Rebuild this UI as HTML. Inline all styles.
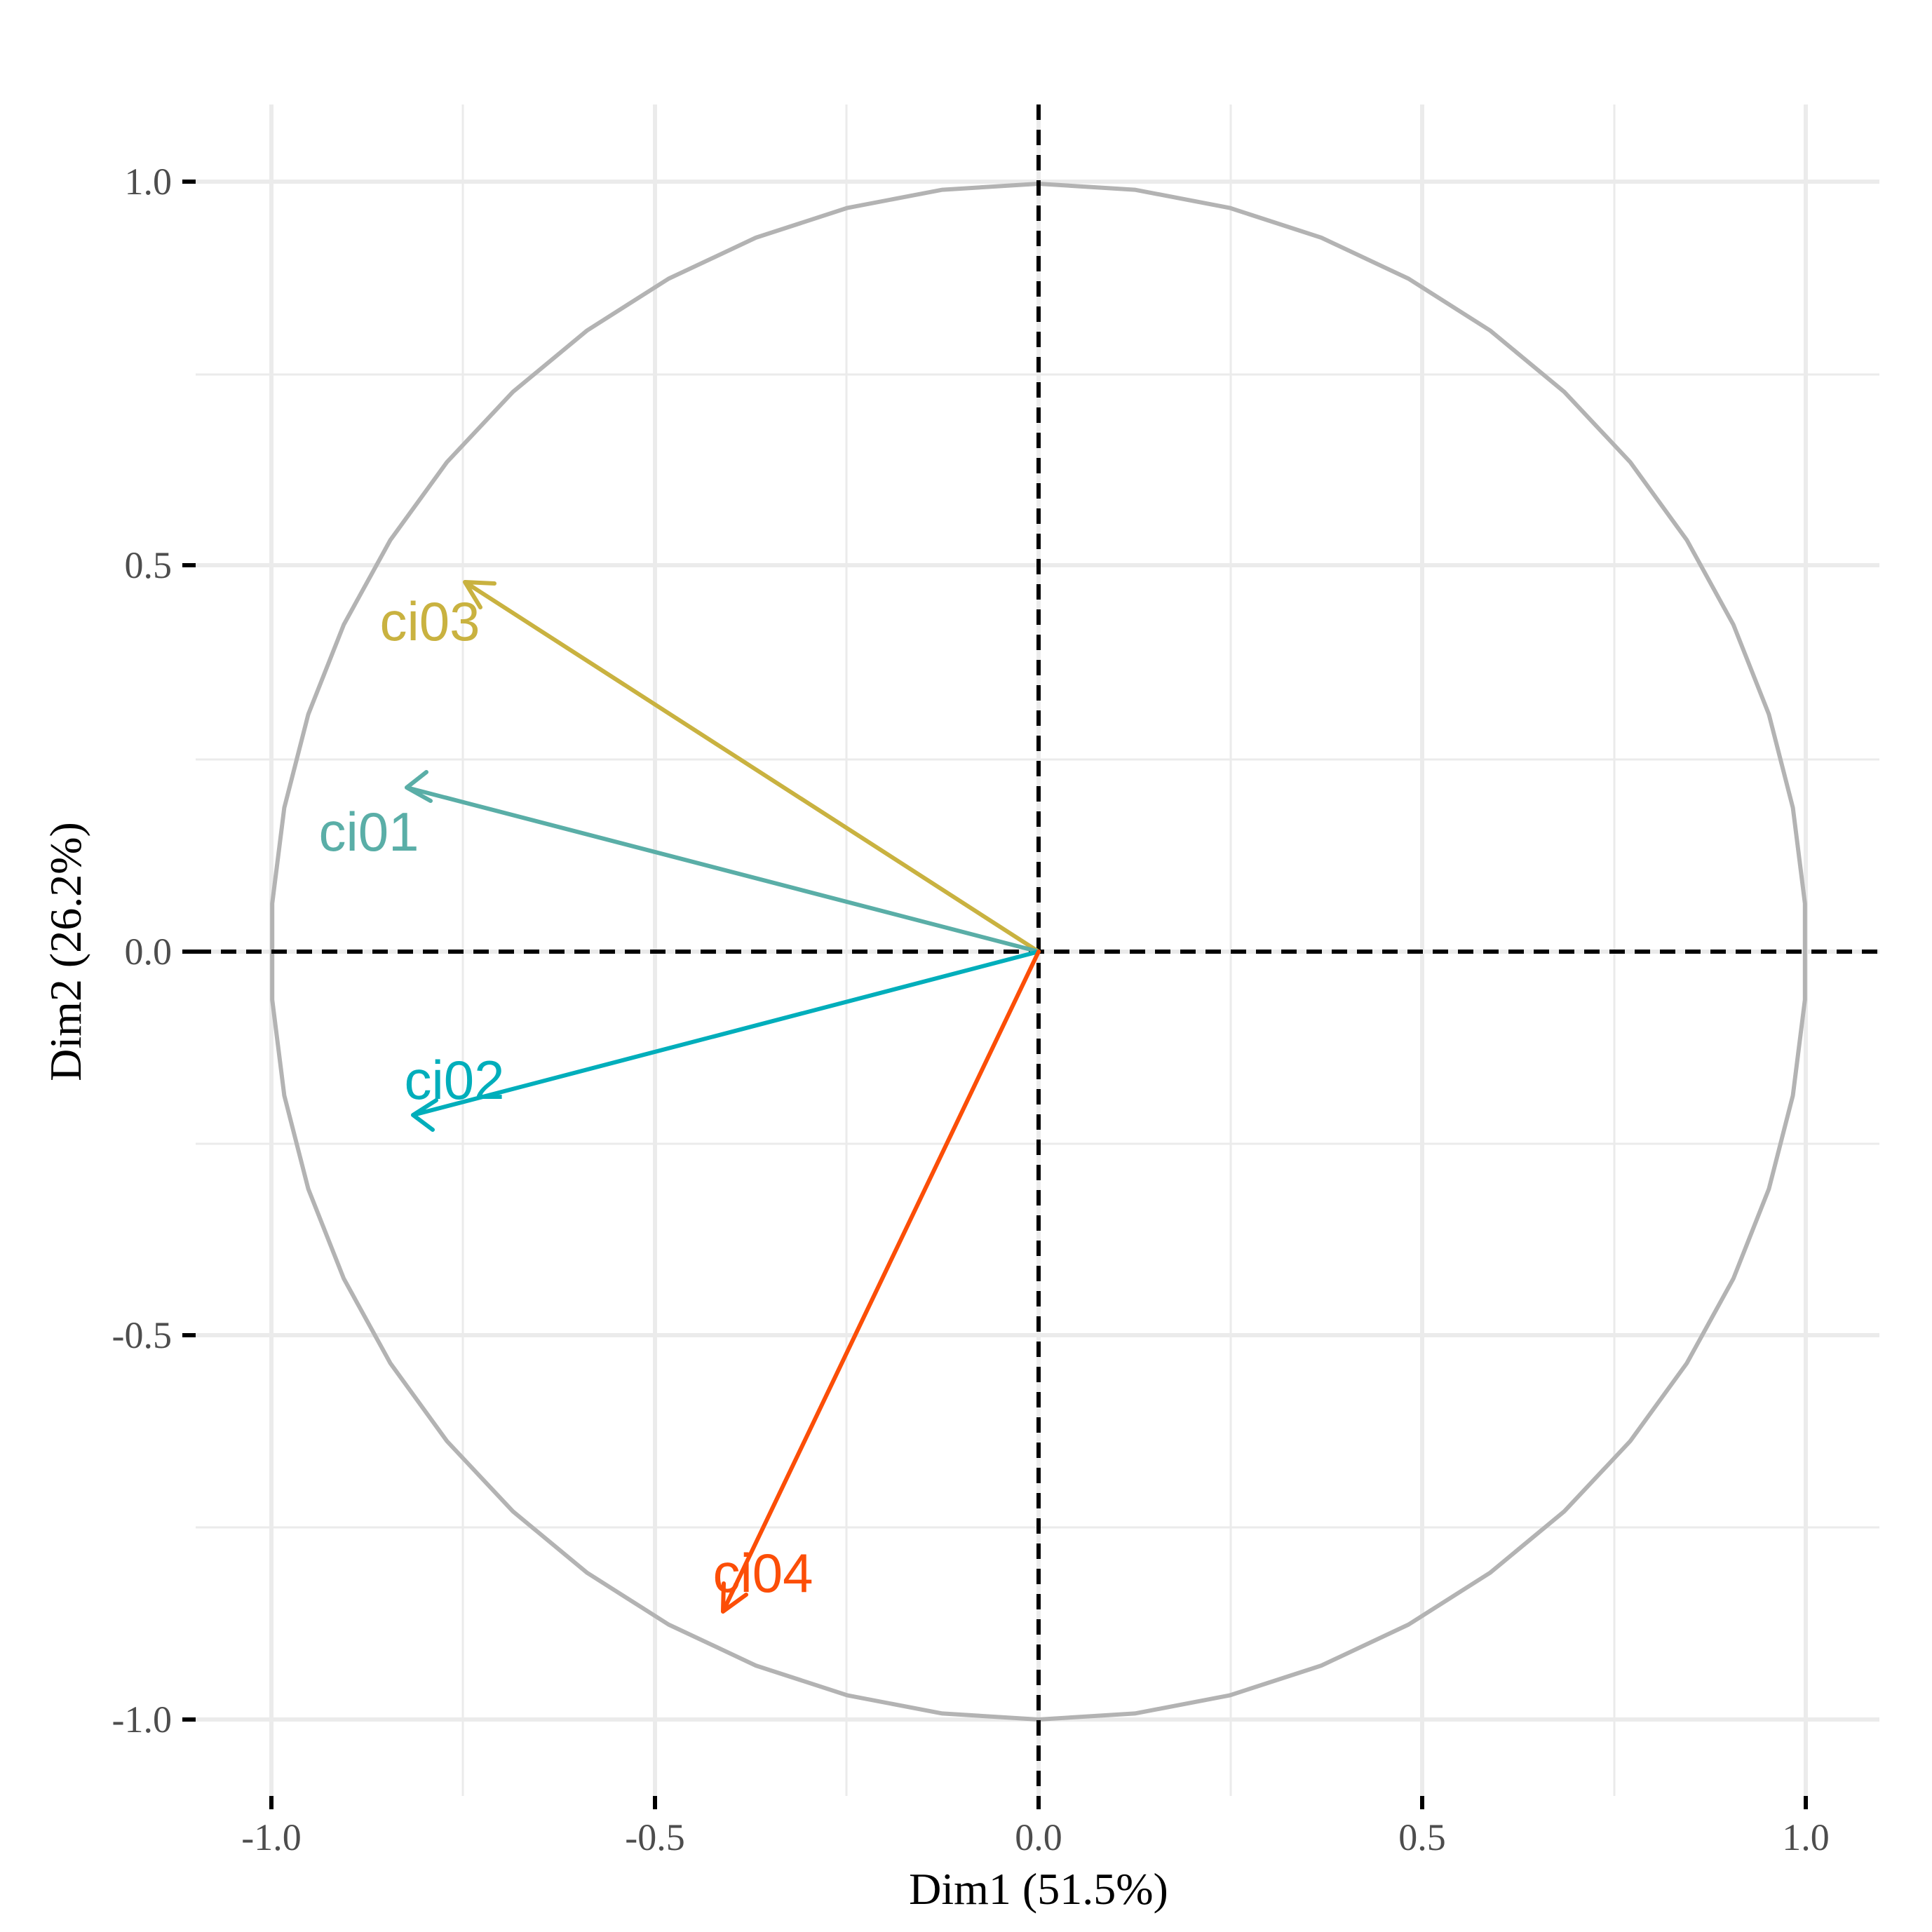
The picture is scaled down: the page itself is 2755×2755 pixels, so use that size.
<!DOCTYPE html>
<html><head><meta charset="utf-8"><style>html,body{margin:0;padding:0;background:#fff}svg{display:block}</style></head>
<body>
<svg width="2755" height="2755" viewBox="0 0 2755 2755" xmlns="http://www.w3.org/2000/svg">
<rect width="2755" height="2755" fill="#fff"/>
<g stroke="#ebebeb" stroke-width="3">
<line x1="660" y1="149" x2="660" y2="2561"/><line x1="1207" y1="149" x2="1207" y2="2561"/>
<line x1="1755" y1="149" x2="1755" y2="2561"/><line x1="2302" y1="149" x2="2302" y2="2561"/>
<line x1="279" y1="2178" x2="2680" y2="2178"/><line x1="279" y1="1631" x2="2680" y2="1631"/>
<line x1="279" y1="1083" x2="2680" y2="1083"/><line x1="279" y1="534" x2="2680" y2="534"/>
</g>
<g stroke="#ebebeb" stroke-width="6">
<line x1="387" y1="149" x2="387" y2="2561"/><line x1="934" y1="149" x2="934" y2="2561"/>
<line x1="1481" y1="149" x2="1481" y2="2561"/><line x1="2028" y1="149" x2="2028" y2="2561"/>
<line x1="2575" y1="149" x2="2575" y2="2561"/>
<line x1="279" y1="2452" x2="2680" y2="2452"/><line x1="279" y1="1904" x2="2680" y2="1904"/>
<line x1="279" y1="1357" x2="2680" y2="1357"/><line x1="279" y1="806" x2="2680" y2="806"/>
<line x1="279" y1="259" x2="2680" y2="259"/>
</g>
<polygon id="circ" fill="none" stroke="#b3b3b3" stroke-width="6" stroke-linejoin="round" points=""/>
<g stroke="#000" stroke-width="6" stroke-dasharray="22,14">
<line x1="279" y1="1357" x2="2680" y2="1357"/>
<line x1="1481" y1="149" x2="1481" y2="2561"/>
</g>
<g fill="none" stroke-width="6" stroke-linecap="round" stroke-linejoin="round">
<path d="M1481 1357 L663 830 M663 830 L705 832 M663 830 L685 866" stroke="#c9b240"/>
<path d="M1481 1357 L580 1123 M580 1123 L608 1101 M580 1123 L614 1142" stroke="#5aaea7"/>
<path d="M1481 1357 L589 1590 M589 1590 L622 1569 M589 1590 L617 1611" stroke="#00aebb"/>
<path d="M1481 1357 L1031 2298 M1031 2298 L1032 2258 M1031 2298 L1064 2274" stroke="#fc4e07"/>
</g>
<g font-family="Liberation Sans, sans-serif" font-size="78" text-anchor="middle">
<text x="613" y="913" fill="#c9b240">ci03</text>
<text x="526" y="1213" fill="#5aaea7">ci01</text>
<text x="648" y="1567" fill="#00aebb">ci02</text>
<text x="1088" y="2270" fill="#fc4e07">ci04</text>
</g>
<g stroke="#000" stroke-width="6">
<line x1="260" y1="2452" x2="279" y2="2452"/><line x1="260" y1="1904" x2="279" y2="1904"/>
<line x1="260" y1="1357" x2="279" y2="1357"/><line x1="260" y1="806" x2="279" y2="806"/>
<line x1="260" y1="259" x2="279" y2="259"/>
<line x1="387" y1="2561" x2="387" y2="2580"/><line x1="934" y1="2561" x2="934" y2="2580"/>
<line x1="1481" y1="2561" x2="1481" y2="2580"/><line x1="2028" y1="2561" x2="2028" y2="2580"/>
<line x1="2575" y1="2561" x2="2575" y2="2580"/>
</g>
<g font-family="Liberation Serif, serif" font-size="54" fill="#4d4d4d">
<g text-anchor="end">
<text x="245" y="2470">-1.0</text><text x="245" y="1922">-0.5</text>
<text x="245" y="1375">0.0</text><text x="245" y="824">0.5</text><text x="245" y="277">1.0</text>
</g>
<g text-anchor="middle">
<text x="387" y="2638">-1.0</text><text x="934" y="2638">-0.5</text>
<text x="1481" y="2638">0.0</text><text x="2028" y="2638">0.5</text><text x="2575" y="2638">1.0</text>
</g>
</g>
<g font-family="Liberation Serif, serif" font-size="64" fill="#000" text-anchor="middle">
<text x="1481" y="2715">Dim1 (51.5%)</text>
<text transform="translate(115,1357) rotate(-90)">Dim2 (26.2%)</text>
</g>
</svg>
<script>
(function(){var p=[];for(var i=0;i<50;i++){var a=(i+0.5)*2*Math.PI/50;p.push((1481+1095*Math.cos(a)).toFixed(1)+","+(1357-1095*Math.sin(a)).toFixed(1));}
document.getElementById("circ").setAttribute("points",p.join(" "));})();
</script>
</body></html>
